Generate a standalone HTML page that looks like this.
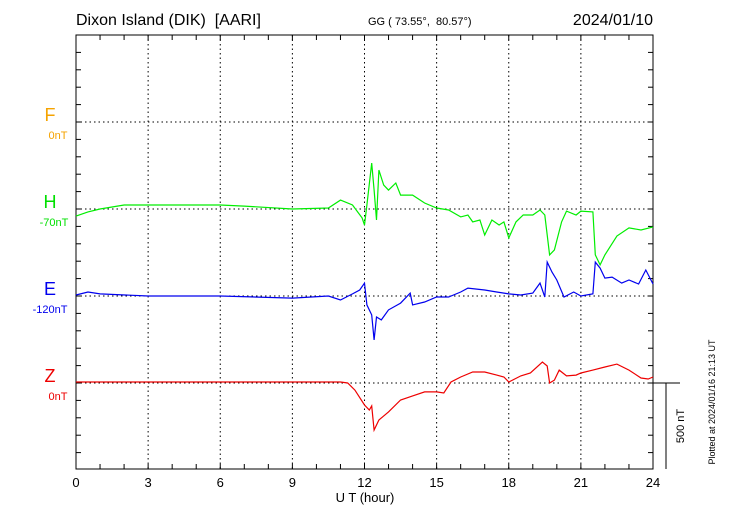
<!DOCTYPE html>
<html><head><meta charset="utf-8"><style>
body{margin:0;background:#fff}
svg{display:block;font-family:"Liberation Sans",sans-serif}
</style></head><body>
<svg id="chart" width="730" height="520" viewBox="0 0 730 520">
<text x="76" y="25" font-size="16">Dixon Island (DIK)&#160;&#160;[AARI]</text>
<text x="368" y="25" font-size="11">GG ( 73.55°,&#160; 80.57°)</text>
<text x="653" y="25" font-size="16" text-anchor="end">2024/01/10</text>
<g id="grid"></g>
<g id="axes"></g>
<g id="series"></g>
<text x="50" y="121" font-size="18" fill="#f5a300" text-anchor="middle">F</text>
<text x="58" y="139" font-size="11" fill="#f5a300" text-anchor="middle">0nT</text>
<text x="50" y="208" font-size="18" fill="#00e000" text-anchor="middle">H</text>
<text x="54" y="226" font-size="11" fill="#00e000" text-anchor="middle">-70nT</text>
<text x="50" y="295" font-size="18" fill="#0000ee" text-anchor="middle">E</text>
<text x="50" y="313" font-size="11" fill="#0000ee" text-anchor="middle">-120nT</text>
<text x="50" y="382" font-size="18" fill="#ee0000" text-anchor="middle">Z</text>
<text x="58" y="400" font-size="11" fill="#ee0000" text-anchor="middle">0nT</text>
<text x="365" y="502" font-size="13" text-anchor="middle">U T (hour)</text>
<g>
<line x1="653" y1="383" x2="680" y2="383" stroke="#000"/>
<line x1="666" y1="383" x2="666" y2="469" stroke="#000"/>
<text transform="translate(684,426) rotate(-90)" font-size="11" text-anchor="middle">500 nT</text>
</g>
<text transform="translate(715,402) rotate(-90)" font-size="9" text-anchor="middle">Plotted at 2024/01/16 21:13 UT</text>
</svg>
<script>
const xTicks=[0,3,6,9,12,15,18,21,24];
const hT=[0,0.5,1,2,4,6,7,9,10.5,11,11.5,11.9,12,12.1,12.3,12.4,12.5,12.6,12.8,13,13.3,13.5,14,14.5,15,15.5,16,16.3,16.5,16.8,17,17.3,17.6,17.8,18,18.3,18.6,19,19.3,19.5,19.7,19.9,20.2,20.4,20.8,21,21.5,21.6,21.8,22,22.5,23,23.5,24];
const hV=[-41,-17,0,23,23,23,17,0,6,52,23,-52,-93,23,267,110,-64,226,139,110,151,81,81,35,6,-6,-46,-35,-75,-64,-151,-64,-93,-75,-168,-75,-35,-35,-6,-35,-267,-238,-75,-12,-35,-12,-17,-267,-325,-267,-157,-110,-122,-104];
const eT=[0,0.5,1,3,6,9,10.5,11,11.5,11.8,12,12.1,12.3,12.4,12.5,12.7,13,13.5,13.9,14,14.5,15,15.5,16,16.3,17,17.5,18,18.5,19,19.3,19.5,19.6,19.8,20,20.3,20.7,21,21.5,21.6,21.8,22,22.3,22.7,23,23.4,23.7,24];
const eV=[6,23,12,0,0,-12,0,-23,12,35,75,-52,-110,-255,-122,-139,-81,-41,17,-52,-35,-6,-6,23,46,35,23,12,6,17,75,-6,197,139,93,-6,23,0,12,197,162,104,110,75,93,70,151,70];
const zT=[0,11,11.3,11.6,12,12.2,12.3,12.4,12.6,13,13.5,14,14.5,15,15.3,15.6,16,16.5,17,17.5,17.8,18,18.5,18.9,19.4,19.6,19.7,19.9,20.1,20.4,20.8,21,21.5,22,22.5,23,23.5,23.8,24];
const zV=[6,6,0,-41,-128,-157,-133,-273,-215,-168,-99,-75,-52,-52,-58,6,35,64,64,46,35,6,41,58,122,99,0,17,75,41,46,58,75,93,110,75,29,23,35];
const X0=76,X1=653,Y0=35,Y1=469,PXNT=86/500;
const x=h=>X0+(X1-X0)*h/24;
const ns="http://www.w3.org/2000/svg";
function mk(tag,attrs,parent){const e=document.createElementNS(ns,tag);for(const k in attrs)e.setAttribute(k,attrs[k]);parent.appendChild(e);return e;}
const grid=document.getElementById('grid'),axes=document.getElementById('axes'),series=document.getElementById('series');
const baselines=[122,209,296,383];
baselines.forEach(b=>{const l=mk('line',{x1:X0,x2:X1,y1:b,y2:b,stroke:'#000','stroke-dasharray':'1.5,3'},grid);

});
xTicks.forEach(h=>{if(h>0&&h<24){const l=mk('line',{x1:x(h),x2:x(h),y1:Y0,y2:Y1,stroke:'#000','stroke-dasharray':'1.5,3'},grid);

}
const t=mk('text',{x:x(h),y:487,'font-size':13,'text-anchor':'middle'},axes);t.textContent=h;

});
const box=mk('rect',{x:X0,y:Y0,width:X1-X0,height:Y1-Y0,fill:'none',stroke:'#000'},axes);


for(let h=1;h<24;h++){mk('line',{x1:x(h),x2:x(h),y1:Y0,y2:Y0+5,stroke:'#000'},axes);mk('line',{x1:x(h),x2:x(h),y1:Y1,y2:Y1-5,stroke:'#000'},axes);}
for(let y=Y0+17.4;y<Y1-1;y+=17.4){mk('line',{x1:X0,x2:X0+5,y1:y,y2:y,stroke:'#000'},axes);mk('line',{x1:X1,x2:X1-5,y1:y,y2:y,stroke:'#000'},axes);}
function draw(T,V,base,color,name){const d=T.map((t,i)=>(i?'L':'M')+x(t).toFixed(1)+','+(base-V[i]*PXNT).toFixed(1)).join('');
const p=mk('path',{d:d,fill:'none',stroke:color,'stroke-width':1.2},series);

}
draw(hT,hV,209,'#00ee00','h-trace');
draw(eT,eV,296,'#0000ee','e-trace');
draw(zT,zV,383,'#ee0000','z-trace');
</script>
</body></html>
